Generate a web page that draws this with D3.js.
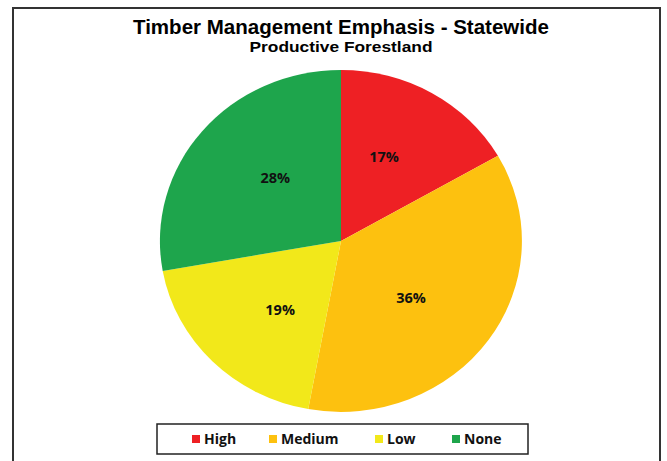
<!DOCTYPE html>
<html>
<head>
<meta charset="utf-8">
<script src="https://cdn.jsdelivr.net/npm/d3@7"></script>
<style>
  body { margin: 0; background: #fff; }
  svg { display: block; }
</style>
</head>
<body>
<div id="chart"></div>
<script>
const categories = ['High', 'Medium', 'Low', 'None'];
const values = [16.7, 36.2, 19.3, 27.8];
const colors = ['#ee2024', '#fdc10f', '#f2e81a', '#1ea54c'];

const width = 667, height = 461;
const svg = d3.select('#chart').append('svg')
    .attr('width', width)
    .attr('height', height);

// outer frame (bottom edge runs off the picture)
svg.append('rect')
    .attr('x', 13).attr('y', 8)
    .attr('width', 647).attr('height', 470)
    .attr('fill', 'none')
    .attr('stroke', '#333')
    .attr('stroke-width', 2);

svg.append('text')
    .attr('x', 341).attr('y', 34)
    .attr('text-anchor', 'middle')
    .attr('textLength', 416)
    .attr('lengthAdjust', 'spacingAndGlyphs')
    .style('font-family', '"Liberation Sans", Arial, sans-serif')
    .style('font-weight', 'bold')
    .style('font-size', '19.5px')
    .text('Timber Management Emphasis - Statewide');

svg.append('text')
    .attr('x', 341).attr('y', 52)
    .attr('text-anchor', 'middle')
    .attr('textLength', 183)
    .attr('lengthAdjust', 'spacingAndGlyphs')
    .style('font-family', '"Liberation Sans", Arial, sans-serif')
    .style('font-weight', 'bold')
    .style('font-size', '14.5px')
    .text('Productive Forestland');

// pie is drawn in unit space and stretched a bit wider than tall
const cx = 341, cy = 241, rx = 181, ry = 171;
const pie = d3.pie().sort(null).value(d => d.value);
const data = pie(categories.map((c, i) => ({ name: c, value: values[i], color: colors[i] })));
const arc = d3.arc().innerRadius(0).outerRadius(1);
const labelArc = d3.arc().innerRadius(1.04).outerRadius(0);
// labels sit on a rounder ellipse than the pie itself
const lrx = 165, lry = 188;

const g = svg.append('g')
    .attr('transform', `translate(${cx},${cy}) scale(${rx},${ry})`);

g.selectAll('path')
    .data(data)
    .enter().append('path')
    .attr('d', arc)
    .attr('fill', d => d.data.color);

svg.selectAll('.lbl')
    .data(data)
    .enter().append('text')
    .attr('class', 'lbl')
    .attr('x', d => cx + labelArc.centroid(d)[0] * lrx)
    .attr('y', d => cy + labelArc.centroid(d)[1] * lry)
    .attr('dy', '0.36em')
    .attr('text-anchor', 'middle')
    .style('font-family', '"Open Sans", "DejaVu Sans", sans-serif')
    .style('font-weight', 'bold')
    .style('font-size', '14.5px')
    .style('fill', '#111')
    .text(d => Math.round(d.data.value) + '%');

// legend
svg.append('rect')
    .attr('x', 157).attr('y', 424)
    .attr('width', 371).attr('height', 30)
    .attr('fill', '#fff')
    .attr('stroke', '#222')
    .attr('stroke-width', 1.5);

const legendX = [192, 269, 375, 452];
const item = svg.selectAll('.leg')
    .data(categories)
    .enter().append('g')
    .attr('class', 'leg')
    .attr('transform', (d, i) => `translate(${legendX[i]},439)`);

item.append('rect')
    .attr('x', 0).attr('y', -4)
    .attr('width', 8).attr('height', 8)
    .attr('fill', (d, i) => colors[i]);

item.append('text')
    .attr('x', 12).attr('dy', '0.36em')
    .style('font-family', '"Open Sans", "DejaVu Sans", sans-serif')
    .style('font-weight', 'bold')
    .style('font-size', '14px')
    .style('fill', '#111')
    .text(d => d);
</script>
</body>
</html>
